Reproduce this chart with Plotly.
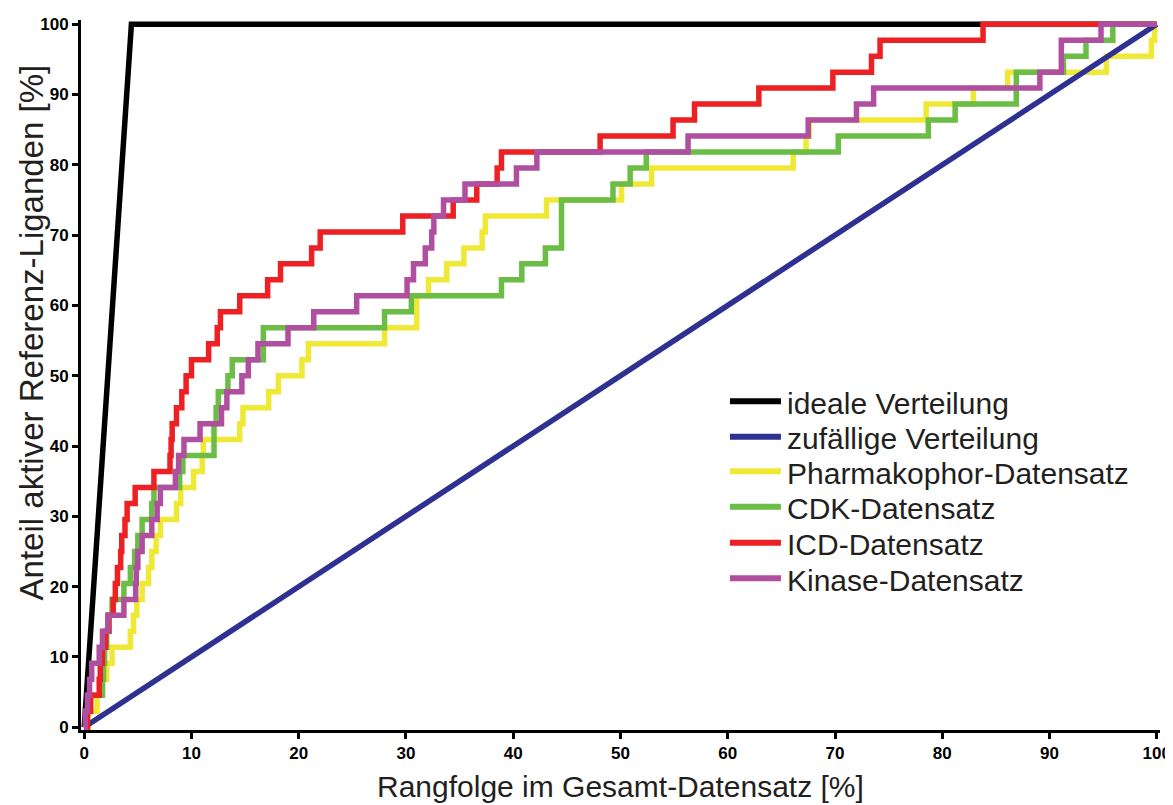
import plotly.graph_objects as go

# ---------------- data ----------------
x_ticks = [0, 10, 20, 30, 40, 50, 60, 70, 80, 90, 100]
y_ticks = [0, 10, 20, 30, 40, 50, 60, 70, 80, 90, 100]

# share of active reference ligands after k of 44 ligands found [%]
levels = [0, 2.27, 4.55, 6.82, 9.09, 11.36, 13.64, 15.91, 18.18, 20.45, 22.73,
          25.0, 27.27, 29.55, 31.82, 34.09, 36.36, 38.64, 40.91, 43.18, 45.45,
          47.73, 50.0, 52.27, 54.55, 56.82, 59.09, 61.36, 63.64, 65.91, 68.18,
          70.45, 72.73, 75.0, 77.27, 79.55, 81.82, 84.09, 86.36, 88.64, 90.91,
          93.18, 95.45, 97.73, 100.0]

ideal_x = [0, 4.4, 100]
ideal_y = [0, 100, 100]
random_x = [0, 100]
random_y = [0, 100]

# rank [%] at which each successive ligand is found
pharmakophor_x = [0.4, 1.2, 1.7, 2.1, 2.6, 4.3, 4.6, 4.9, 5.4, 6.0, 6.3, 6.7, 7.1,
                  8.6, 9.0, 10.2, 11.0, 11.1, 14.5, 14.8, 17.2, 18.1, 20.3, 20.9,
                  28.0, 31.0, 31.0, 32.1, 33.8, 35.4, 37.1, 37.4, 43.1, 50.1, 52.9,
                  66.1, 67.3, 67.6, 78.5, 82.9, 86.1, 95.3, 99.5, 99.8]
cdk_x = [0.2, 0.4, 1.7, 1.8, 1.9, 2.1, 2.3, 2.6, 3.7, 4.3, 4.7, 5.0, 5.4, 6.3,
         6.5, 8.9, 9.2, 12.1, 12.1, 12.3, 12.5, 13.4, 13.8, 16.7, 16.7, 28.0,
         30.5, 38.9, 40.8, 43.0, 44.5, 44.5, 44.5, 49.3, 50.9, 52.4, 70.3, 78.7,
         81.2, 86.9, 86.9, 91.3, 93.4, 95.9]
icd_x = [0.3, 0.6, 1.4, 1.5, 1.7, 2.0, 2.3, 2.7, 2.9, 3.1, 3.4, 3.5, 3.8, 4.0,
         4.75, 6.5, 8.0, 8.1, 8.2, 8.6, 9.1, 9.5, 10.0, 11.6, 12.4, 12.7, 14.5,
         17.1, 18.3, 21.2, 22.0, 29.7, 34.4, 36.6, 38.5, 38.9, 48.1, 54.9, 56.9,
         62.9, 69.8, 73.4, 74.2, 83.8]
kinase_x = [0.1, 0.3, 0.5, 0.7, 1.4, 1.7, 2.2, 3.7, 4.8, 4.85, 5.0, 5.4, 6.3,
            6.8, 7.1, 8.5, 8.8, 9.3, 10.8, 12.8, 13.3, 14.7, 15.3, 16.2, 19.0,
            21.4, 25.4, 30.1, 30.7, 31.8, 32.4, 32.6, 33.5, 35.5, 40.3, 42.2,
            56.3, 67.5, 72.0, 73.6, 89.1, 91.1, 91.1, 94.8]

series_names = ["ideale Verteilung", "zufällige Verteilung", "Pharmakophor-Datensatz",
                "CDK-Datensatz", "ICD-Datensatz", "Kinase-Datensatz"]
colors = {"ideale Verteilung": "#000000",
          "zufällige Verteilung": "#2e3192",
          "Pharmakophor-Datensatz": "#efe935",
          "CDK-Datensatz": "#6bbd45",
          "ICD-Datensatz": "#ed2024",
          "Kinase-Datensatz": "#b04fa0"}

# ---------------- layout geometry ----------------
OFF = 8                     # page body margin of the browser
W, H = 1165, 797
X0, X1 = -0.3, 100.3
Y0, Y1 = -0.4, 100.6
# target page pixels of data 0/100
PX0, PX100 = 84, 1157
PY0, PY100 = 727, 24
sx = (PX100 - PX0) / 100.0
sy = (PY0 - PY100) / 100.0
plot_left = PX0 + X0 * sx - OFF
plot_right = PX0 + X1 * sx - OFF
plot_top = PY0 - Y1 * sy - OFF
plot_bottom = PY0 - Y0 * sy - OFF
L = plot_left
R = W - plot_right
T = plot_top
B = H - plot_bottom
LW = 5.5

fig = go.Figure()


def add_line(name, xs, ys, shape="linear"):
    fig.add_trace(go.Scatter(x=xs, y=ys, mode="lines", name=name, showlegend=False,
                             line=dict(color=colors[name], width=LW, shape=shape)))


def step_xy(xs):
    return [0] + list(xs) + [100], list(levels) + [100]


add_line("ideale Verteilung", ideal_x, ideal_y)
px_, py_ = step_xy(pharmakophor_x)
add_line("Pharmakophor-Datensatz", px_, py_, "hv")
add_line("zufällige Verteilung", random_x, random_y)
px_, py_ = step_xy(cdk_x)
add_line("CDK-Datensatz", px_, py_, "hv")
px_, py_ = step_xy(icd_x)
add_line("ICD-Datensatz", px_, py_, "hv")
px_, py_ = step_xy(kinase_x)
add_line("Kinase-Datensatz", px_, py_, "hv")

pw = plot_right - plot_left
ph = plot_bottom - plot_top


def xp(page_x):
    return (page_x - OFF - plot_left) / pw


def yp(page_y):
    return (plot_bottom - (page_y - OFF)) / ph


TEXT = "#231f20"
FONT = "Liberation Sans, Arial, sans-serif"

# manual legend (symbol lines + labels), page coordinates
legend_y = [401, 436.5, 471, 506.5, 542.5, 578]
shapes = []
annotations = []
for name, ly in zip(series_names, legend_y):
    shapes.append(dict(type="line", xref="paper", yref="paper",
                       x0=xp(730), x1=xp(781), y0=yp(ly), y1=yp(ly),
                       line=dict(color=colors[name], width=6)))
    annotations.append(dict(text=name, xref="paper", yref="paper",
                            x=xp(785), y=yp(ly + 2), xanchor="left", yanchor="middle",
                            showarrow=False, font=dict(family=FONT, size=30, color=TEXT)))

annotations.append(dict(text="Rangfolge im Gesamt-Datensatz [%]", xref="paper", yref="paper",
                        x=xp(620), y=yp(786), xanchor="center", yanchor="middle",
                        showarrow=False, font=dict(family=FONT, size=30, color=TEXT)))
annotations.append(dict(text="Anteil aktiver Referenz-Liganden [%]", xref="paper", yref="paper",
                        x=xp(31), y=yp(332), xanchor="center", yanchor="middle", textangle=-90,
                        showarrow=False, font=dict(family=FONT, size=33, color=TEXT)))

axis_common = dict(showgrid=False, zeroline=False, showline=True, linecolor="black",
                   linewidth=3, ticks="outside", ticklen=6, tickwidth=3, tickcolor="black",
                   automargin=False,
                   tickfont=dict(family=FONT, size=17, color="black", weight="bold"))

fig.update_layout(
    width=W, height=H,
    margin=dict(l=L, r=R, t=T, b=B, pad=0, autoexpand=False),
    paper_bgcolor="white", plot_bgcolor="white",
    xaxis=dict(range=[X0, X1], tickvals=x_ticks, ticktext=[str(v) for v in x_ticks], **axis_common),
    yaxis=dict(range=[Y0, Y1], tickvals=y_ticks, ticktext=[str(v) for v in y_ticks], **axis_common),
    shapes=shapes,
    annotations=annotations,
    showlegend=False,
)

fig.write_html("out.html")
